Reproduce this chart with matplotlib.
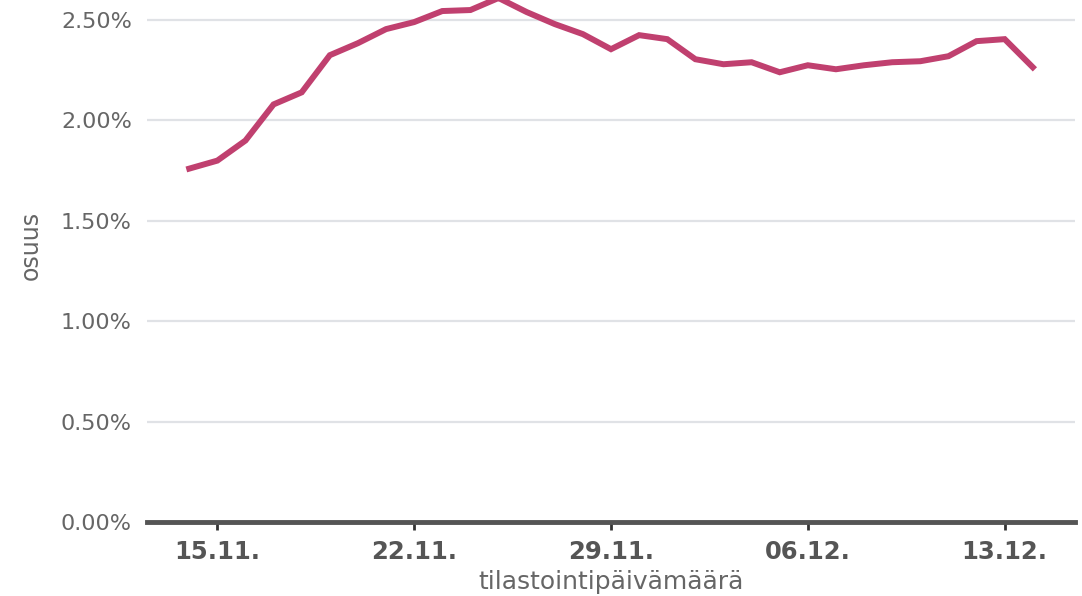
import matplotlib
matplotlib.use("Agg")
import matplotlib.pyplot as plt
import matplotlib.dates as mdates
import matplotlib.ticker as mticker
import pandas as pd

# daily share (%) from 14.11. to 14.12.
start_date = "2020-11-14"
share = [1.76, 1.80, 1.90, 2.08, 2.14, 2.325, 2.385, 2.455, 2.49, 2.545,
         2.55, 2.61, 2.54, 2.48, 2.43, 2.355, 2.425, 2.405, 2.305, 2.28,
         2.29, 2.24, 2.275, 2.255, 2.275, 2.29, 2.295, 2.32, 2.395, 2.405,
         2.265]
tick_dates = ["2020-11-15", "2020-11-22", "2020-11-29", "2020-12-06", "2020-12-13"]
y_ticks = [0, 0.5, 1.0, 1.5, 2.0, 2.5]

dates = pd.date_range(start_date, periods=len(share), freq="D")

text_col = "#666666"
fig = plt.figure(figsize=(10.82, 5.96), dpi=100)
ax = fig.add_axes([0.1359, 0.1242, 0.8576, 0.8758])

ax.plot(dates, share, color="#c0406f", lw=4.3, solid_joinstyle="miter", zorder=3)

ax.set_xlim(dates[0] - pd.Timedelta(hours=36), dates[-1] + pd.Timedelta(hours=36))
ax.set_ylim(0, 2.6)

ax.set_yticks(y_ticks)
ax.yaxis.set_major_formatter(mticker.FuncFormatter(lambda v, p: f"{v:.2f}%"))
ax.set_xticks(pd.to_datetime(tick_dates))
ax.xaxis.set_major_formatter(mdates.DateFormatter("%d.%m."))

ax.grid(axis="y", color="#e0e2e6", lw=1.6, zorder=0)
ax.grid(axis="x", visible=False)
for side in ["top", "right", "left"]:
    ax.spines[side].set_visible(False)
ax.spines["bottom"].set_color("#555555")
ax.spines["bottom"].set_linewidth(3.5)
ax.spines["bottom"].set_zorder(4)

ax.tick_params(axis="y", length=0, pad=11, labelsize=16, labelcolor=text_col)
ax.tick_params(axis="x", length=6, width=2, color="#333333", pad=7,
               labelsize=17.5, labelcolor="#555555")
for lbl in ax.get_xticklabels():
    lbl.set_fontweight("bold")

ax.set_xlabel("tilastointipäivämäärä", fontsize=18, color=text_col, labelpad=4)
ax.set_ylabel("osuus", fontsize=17, color=text_col)
ax.yaxis.set_label_coords(-0.112, 0.53)

fig.savefig("out.png", dpi=100)
